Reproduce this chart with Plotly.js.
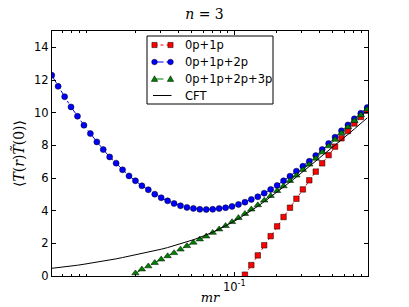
<!DOCTYPE html>
<html>
<head>
<meta charset="utf-8">
<script src="https://cdn.plot.ly/plotly-3.0.1.min.js"></script>
<style>html,body{margin:0;padding:0;background:#fff;}#chart{width:409px;height:307px;}</style>
</head>
<body>
<div id="chart"></div>
<script>
// x values (mr), log-spaced sample points
const mr = [0.00507,0.00563,0.00626,0.00695,0.00772,0.00858,0.00953,0.01059,0.01176,0.01306,
            0.01451,0.01612,0.01791,0.01989,0.0221,0.02455,0.02727,0.03029,0.03365,0.03738,
            0.04152,0.04613,0.05124,0.05692,0.06324,0.07025,0.07803,0.0867,0.09631,0.107,
            0.1189,0.132,0.1467,0.1629,0.181,0.2011,0.2234,0.2481,0.2756,0.3062,
            0.3402,0.3779,0.4198,0.4663,0.518,0.5754,0.6392,0.7101,0.7889,0.8763];

// 0p+1p (red squares)
const red = [null,null,null,null,null,null,null,null,null,null,
             null,null,null,null,null,null,null,null,null,null,
             null,null,null,null,null,null,null,null,null,null,
             0.08,0.67,1.26,1.88,2.44,3.04,3.61,4.18,4.73,5.30,
             5.86,6.39,6.90,7.40,7.92,8.43,8.88,9.34,9.74,10.12];

// 0p+1p+2p (blue circles)
const blue = [12.29,11.61,10.98,10.35,9.78,9.23,8.72,8.21,7.74,7.29,
              6.91,6.50,6.13,5.83,5.52,5.28,5.01,4.79,4.60,4.44,
              4.30,4.20,4.14,4.08,4.07,4.08,4.13,4.18,4.26,4.38,
              4.52,4.69,4.85,5.07,5.30,5.54,5.83,6.11,6.42,6.72,
              7.02,7.37,7.74,8.11,8.50,8.89,9.25,9.62,9.96,10.31];

// 0p+1p+2p+3p (green triangles)
const green = [null,null,null,null,null,null,null,null,null,null,
               null,null,null,0.17,0.41,0.60,0.81,1.02,1.22,1.41,
               1.63,1.84,2.05,2.25,2.43,2.65,2.86,3.07,3.31,3.56,
               3.81,4.08,4.34,4.63,4.91,5.21,5.50,5.83,6.16,6.50,
               6.83,7.19,7.58,7.95,8.35,8.75,9.12,9.50,9.85,10.20];

// CFT (solid black line)
const cft = [0.47,0.51,0.56,0.61,0.66,0.72,0.78,0.84,0.91,0.98,
             1.05,1.13,1.21,1.29,1.38,1.46,1.54,1.64,1.74,1.85,
             1.96,2.08,2.22,2.36,2.51,2.68,2.87,3.06,3.28,3.50,
             3.74,4.00,4.27,4.55,4.84,5.14,5.44,5.75,6.06,6.38,
             6.70,7.02,7.35,7.68,8.01,8.34,8.67,9.00,9.34,9.68];

const seriesNames = ['0p+1p','0p+1p+2p','0p+1p+2p+3p','CFT'];
const xTickVals = [0.1];
const xTickText = ['10<sup>-1</sup>'];
const xMinorVals = [0.006,0.007,0.008,0.009,0.02,0.03,0.04,0.05,0.06,0.07,0.08,0.09,0.2,0.3,0.4,0.5,0.6,0.7,0.8];
const yTickVals = [0,2,4,6,8,10,12,14];

const W = 409, H = 307;
const M = {l:52, r:41, t:31, b:31};
const PW = W - M.l - M.r, PH = H - M.t - M.b;
const px = v => (v - M.l) / PW;          // pixel x -> paper x
const py = v => (H - M.b - v) / PH;      // pixel y -> paper y

const colors = ['#ff0000', '#0000ff', '#008000', '#000000'];
const dashes = ['dot', 'dashdot', 'dash', 'solid'];
const symbols = ['square', 'circle', 'triangle-up', null];

const edge = {color:'#000', width:0.5};
const traces = [
  {x: mr, y: red, name: seriesNames[0], mode: 'lines+markers',
   line: {color:colors[0], width:1, dash:dashes[0]},
   marker: {symbol:symbols[0], size:5.5, color:colors[0], line: edge}},
  {x: mr, y: blue, name: seriesNames[1], mode: 'lines+markers',
   line: {color:colors[1], width:1, dash:dashes[1]},
   marker: {symbol:symbols[1], size:6, color:colors[1], line: edge}},
  {x: mr, y: green, name: seriesNames[2], mode: 'lines+markers',
   line: {color:colors[2], width:1, dash:dashes[2]},
   marker: {symbol:symbols[2], size:6.5, color:colors[2], line: edge}},
  {x: mr, y: cft, name: seriesNames[3], mode: 'lines',
   line: {color:colors[3], width:1}}
];

// ---- legend box drawn as shapes + annotations (matplotlib style, two markers per sample)
const LG = {x0:147, x1:273, y0:36, y1:104, rows:[45, 62, 79, 95.5], s0:154.5, s1:170.5, tx:183};
const shapes = [{type:'rect', xref:'paper', yref:'paper', layer:'above',
  x0:px(LG.x0), x1:px(LG.x1), y0:py(LG.y1), y1:py(LG.y0),
  line:{color:'#000', width:1}, fillcolor:'#fff'}];
const annotations = [];
function markerShape(kind, cx, cy, color) {
  const r = kind === 'circle' ? 2.8 : kind === 'square' ? 2.6 : 3.2;
  const base = {xref:'paper', yref:'paper', layer:'above', fillcolor:color, line:{color:'#000', width:0.5}};
  if (kind === 'square') return Object.assign(base, {type:'rect', x0:px(cx-r), x1:px(cx+r), y0:py(cy+r), y1:py(cy-r)});
  if (kind === 'circle') return Object.assign(base, {type:'circle', x0:px(cx-r), x1:px(cx+r), y0:py(cy+r), y1:py(cy-r)});
  const p = `M${px(cx)},${py(cy-r)} L${px(cx+r)},${py(cy+r*0.75)} L${px(cx-r)},${py(cy+r*0.75)} Z`;
  return Object.assign(base, {type:'path', path:p});
}
seriesNames.forEach((name, i) => {
  const yy = LG.rows[i];
  shapes.push({type:'line', xref:'paper', yref:'paper', layer:'above',
    x0:px(i === 3 ? 153 : LG.s0), x1:px(i === 3 ? 171.5 : LG.s1), y0:py(yy), y1:py(yy),
    line:{color:colors[i], width:1, dash:dashes[i]}});
  if (symbols[i]) {
    shapes.push(markerShape(symbols[i], LG.s0, yy, colors[i]));
    shapes.push(markerShape(symbols[i], LG.s1, yy, colors[i]));
  }
  annotations.push({xref:'paper', yref:'paper', x:px(LG.tx), y:py(yy), xanchor:'left', yanchor:'middle',
    text:name, showarrow:false, font:{family:'DejaVu Sans, sans-serif', size:11.5, color:'#000'}});
});

const tickFont = {family:'DejaVu Sans, sans-serif', size:11.5, color:'#000'};
const layout = {
  width: W, height: H,
  margin: M,
  paper_bgcolor:'#fff', plot_bgcolor:'#fff',
  showlegend: false,
  title: {text:'<i>n</i> = 3', x:0.5, xanchor:'center', y:0.955, yanchor:'middle',
          font:{family:'DejaVu Serif, serif', size:14, color:'#000'}},
  xaxis: {type:'log', range:[-2.293,-0.052], tickmode:'array', tickvals:xTickVals, ticktext:xTickText,
          ticks:'inside', ticklen:4, tickcolor:'#000', tickfont:tickFont,
          showline:true, linecolor:'#000', linewidth:1, mirror:'allticks',
          showgrid:false, zeroline:false,
          minor:{tickmode:'array', tickvals:xMinorVals, ticks:'inside', ticklen:2, tickcolor:'#000', showgrid:false},
          title:{text:'<i>mr</i>', standoff:0, font:{family:'DejaVu Serif, serif', size:13, color:'#000'}}},
  yaxis: {range:[0,15], tickmode:'array', tickvals:yTickVals,
          ticks:'inside', ticklen:4, tickcolor:'#000', tickfont:tickFont,
          showline:true, linecolor:'#000', linewidth:1, mirror:'allticks',
          showgrid:false, zeroline:false,
          title:{text:'⟨<i>T</i>(<i>r</i>)<i>T\u0303</i>(0)⟩', standoff:6, font:{family:'DejaVu Serif, serif', size:14, color:'#000'}}},
  shapes: shapes,
  annotations: annotations
};

Plotly.newPlot('chart', traces, layout, {staticPlot:true, displayModeBar:false});
</script>
</body>
</html>
